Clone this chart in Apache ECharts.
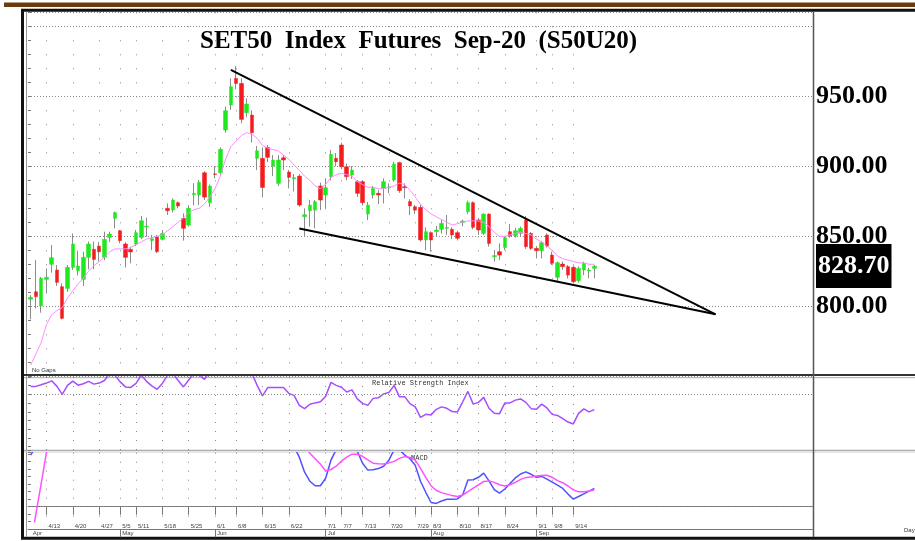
<!DOCTYPE html>
<html>
<head>
<meta charset="utf-8">
<title>SET50 Index Futures Sep-20 (S50U20)</title>
<script src="https://cdn.jsdelivr.net/npm/echarts@6/dist/echarts.min.js"></script>
<style>
  html, body { margin: 0; padding: 0; background: #fff; }
  #chart { width: 915px; height: 541px; }
</style>
</head>
<body>
<div id="chart"></div>
<script>
// trading days, Apr 8 .. Sep 18 2020
var dates = ['4/8','4/9','4/10','4/13','4/14','4/15','4/16','4/17','4/20','4/21',
  '4/22','4/23','4/24','4/27','4/28','4/29','4/30','5/5','5/7','5/8',
  '5/11','5/12','5/13','5/14','5/15','5/18','5/19','5/20','5/21','5/22',
  '5/25','5/26','5/27','5/28','5/29','6/1','6/2','6/4','6/5','6/8',
  '6/9','6/10','6/11','6/12','6/15','6/16','6/17','6/18','6/19','6/22',
  '6/23','6/24','6/25','6/26','6/29','6/30','7/1','7/2','7/3','7/7',
  '7/8','7/9','7/10','7/13','7/14','7/15','7/16','7/17','7/20','7/21',
  '7/22','7/23','7/24','7/29','7/30','7/31','8/3','8/4','8/5','8/6',
  '8/7','8/10','8/11','8/13','8/14','8/17','8/18','8/19','8/20','8/21',
  '8/24','8/25','8/26','8/27','8/28','8/31','9/1','9/2','9/3','9/8',
  '9/9','9/10','9/11','9/14','9/15','9/16','9/17','9/18'];

var opens = [805,810.4,800.2,819.2,830,825.9,814,812.8,827.8,825.4,
  819.2,835,840.7,843,835,849.2,862.8,854,844.5,840.7,
  844.5,849.2,856.8,846.9,849.7,847.8,870,868.8,874,862.8,
  858,879.7,879.5,895.4,874,894.6,895.4,925.9,943.8,962.8,
  959.2,938.3,936.6,905.7,905.7,913.5,900.2,887.8,906.1,895.9,
  891,893,864,868.3,868.7,885.9,879.5,892.6,905.7,915.2,
  899.7,893.8,889,889,865.9,879.5,880.7,884.2,884.5,890.2,
  902.6,885.4,874.8,871.1,870.7,847.4,852.6,853.3,855,855.7,
  855,852.6,859.8,867.6,874,861.7,852.1,865.9,835.4,839,
  841.9,853.3,850.4,852.1,861.6,852.1,841.4,839.7,850.9,836.6,
  820.7,830.2,828.3,827.8,818.3,825.9,825.2,827.1];

var closes = [806.5,806.9,820,820.7,834.7,817.1,791.4,827.8,844.5,828.8,
  835,844.5,833.5,839,847.8,851.6,866.9,846.9,835,838.8,
  852.6,861.1,857.3,848.3,839,852.1,868.3,875.9,871.6,855.7,
  870,880.7,888.5,878,885.9,894.2,912.1,939.7,956.9,959.2,
  933.5,944.5,924,911.1,884.9,906.4,904.5,904.5,904.5,892.1,
  891.9,872.3,865.4,872.3,874.7,875.9,884.7,908.5,903.3,899.7,
  892.6,897.3,880.7,874,872.3,884.2,879.5,889,885.2,901.6,
  882.6,884.7,871.7,868.7,847.4,853.3,847.4,854.5,859.3,856.4,
  851,848.6,860.9,874,856.4,854.5,865.9,844.9,836.2,836.6,
  849,850.2,854,855.7,842.6,841.4,839.7,845.4,843,830.7,
  831.1,828.3,822.3,817.6,827.1,830.7,825.9,828.7];

var lows = [790.7,798.5,795.4,809.2,824,814.5,790.7,810.4,826,822,
  814.5,826.4,826.4,832,833,846,855.7,845,827.8,830.7,
  843,848,849.7,840.2,838,847,865.2,867,870,846.9,
  857,872,872.3,875.9,871,891.4,893,924,940.2,955,
  930.7,935,917,897.3,877.8,903,893,886,897.3,884.2,
  882,871,849.7,856.9,855.7,868.7,869.9,890,900,898,
  890,891,878,872,861.6,877,873,873.5,880.7,889,
  881,877,865.2,866,846.2,840.2,839,849.7,852,851,
  848,847,857,866,855,851,851,842.6,831.9,833,
  840,849,849,850,841,840.2,834.2,834.2,842,829.5,
  817.6,826,819.9,816.4,817,822.3,820,820];

var highs = [808,833,821,827.1,843.8,829.5,816.4,829.5,852,839.7,
  839,846.2,846.2,846,853.3,853.3,867.6,854.5,846,842.5,
  854.5,864.5,863.3,851,851,854.5,873.5,877.1,875,866.4,
  872.3,888,890.2,896.5,887,900.2,913.5,942.6,962.8,971.6,
  962.8,948.5,940,914.5,913.5,915.2,908,908,908,897.3,
  894.5,894.5,870,875.9,875.9,888.3,891.4,911.6,909.5,916.9,
  902,900.2,890.2,890.2,874.5,886,883,891.4,887.8,903.3,
  903.3,887.8,876.5,872.3,872.4,856.4,853.5,857.4,862,865.2,
  856.4,854,862,875.5,875,863,866.4,866.4,840.2,844.9,
  850.2,858.8,856,857,864.5,853,843,846.5,852.1,839,
  832,832,829.5,829,828.5,831.9,827.5,829.5];

// moving average (pink line)
var ma10 = [758,766,774,787,794,797,799,806,811,816,
  820,825,829,832,835,839,841,841,841,842,
  844,846,848,849,850,851,854,857,860,863,
  867,869,870,873,878,884,893,905,914,918,
  922,924,923,920,915,913,912,911,908,905,
  901,897,893,890,886,884,887,892,894,895,
  894,893,889,887,885,885,884,884,885,886,
  888,887,883,878,873,869,866,864,862,860,
  858,859,860,861,861,861,860,857,853,850,
  850,851,852,853,852,851,848,846,843,840,
  836,834,833,832,831,831,830,830];

var rsi = [74.6,74.6,75.5,76.5,77.8,74.6,70,75.2,77.6,75.3,
  76.1,77.5,75.9,76.5,78,82,81,77.2,74.3,74,
  76.3,81,77.5,74.9,72.9,76.3,81,82,78,74.3,
  78.3,82,81,78.6,83,84,86,88,90,89,
  85,84,82,75.2,69.1,73.9,73.9,73.9,73.9,70.6,
  69.4,63.7,61.8,64.3,65.1,65.7,68.9,76.9,75.2,74.1,
  71.4,72.6,67.4,64.8,63.7,67.7,68,70.3,71.1,75.2,
  68.6,68.7,64.7,62.8,56.8,58.5,58.2,61.4,62.8,62,
  60.1,59.9,65.6,71.7,64.4,65.4,68.3,62,59.1,58.9,
  65,65.1,66.7,67.4,65.4,61.8,61.4,64.4,62.2,58.5,
  57.9,56,54.1,53,59.1,61.7,59.9,61.2];

var macd = [17.2,20,22,23,25,24,22,22,23,23,
  23,24,24,24,24,24,26,25,23,22,
  22,23,23,22,21,21,23,24,25,24,
  24,25,27,27,27,28,31,36,42,45,
  44,43,41,37,32,30,28,26,25,22,
  20,16.5,11.5,8.5,7,7,9.5,15.5,19,22,
  21,20,18.5,14.5,12.2,12.3,12.7,13.5,15.5,19,
  19,17.2,16,13.8,8.5,4.8,1.4,1.1,1.9,2.5,
  2.5,2.6,3.9,8.9,9,9.8,11.2,8.6,5.7,4.5,
  5.9,7.7,9.6,10.9,11.6,10.8,9.8,10.1,9.2,8.2,
  7.2,6.1,4.2,2.5,3.4,4.3,5.2,6.1];

var signal = [-12.8,-2.5,7.7,18,22,24,24,24,24,24,
  24,24,24,24,24,24,24,24,24,24,
  23,23,23,23,23,22,22,23,23,23,
  24,24,24,25,25,26,26,28,30,33,
  35,37,38,38,37,35,34,32,30,28,
  25,22,20.5,17.8,16,14.2,11.9,12.4,13.5,15.2,
  16.5,17.5,17.5,16.8,15.6,14.5,14.3,14.2,14.6,15.1,
  16.1,16.7,16.4,15.5,12.8,9.8,7,5.4,4.7,4.2,
  3.7,3.4,3.9,5,6.2,7.3,8.4,8.6,8.1,7.3,
  6.9,7.3,8.1,9.1,9.7,9.9,10.2,10.4,10.5,9.8,
  8.7,8,6.9,5.6,5,5,5.2,5.6];

var weekTicks = ['4/13','4/20','4/27','5/5','5/11','5/18','5/25','6/1','6/8','6/15','6/22',
  '7/1','7/7','7/13','7/20','7/29','8/3','8/10','8/17','8/24','9/1','9/8','9/14'];
var monthDates = ['4/8','5/5','6/1','7/1','8/3','9/1'];
var monthNames = ['Apr','May','Jun','Jul','Aug','Sep'];

// falling wedge, [day index, price]
var trendUpper = [[38, 968.8], [130, 794.3]];
var trendLower = [[51, 855.6], [130, 794.3]];

var chart = echarts.init(document.getElementById('chart'));

// blank days on the right so the wedge can run out past the data
var axisCats = dates.concat(new Array(41).fill(''));

var isWeek = function (i, v) { return weekTicks.indexOf(v) >= 0; };
var isMonth = function (i, v) { return monthDates.indexOf(v) >= 0; };
var isMonthEdge = function (i, v) { return monthDates.indexOf(v) > 0; };

var ohlc = opens.map(function (o, i) { return [o, closes[i], lows[i], highs[i]]; });
var bodies = opens.map(function (o, i) {
    return [o, closes[i], Math.min(o, closes[i]), Math.max(o, closes[i])];
});

var dotV = function (gap) {
    return { show: true, alignWithLabel: true, interval: isWeek,
        lineStyle: { color: '#8a8a8a', width: 1, type: [1, gap] } };
};

var catAxis = function (g, gap) {
    return {
        type: 'category', gridIndex: g, position: 'bottom', data: axisCats, max: 148, boundaryGap: true,
        axisLine: { show: false }, axisTick: { show: false }, axisLabel: { show: false },
        splitLine: dotV(gap)
    };
};

var smallTicks = function (g, min, max, pos) {
    return {
        type: 'value', gridIndex: g, position: pos, min: min, max: max,
        axisLine: { show: false },
        axisTick: { show: true, inside: true, length: 3, lineStyle: { color: '#777' } },
        minorTick: { show: true, splitNumber: 2, length: 3, lineStyle: { color: '#777' } },
        axisLabel: { show: false }, splitLine: { show: false }
    };
};

var dateAxis = catAxis(2, 8);
dateAxis.axisLine = { show: true, lineStyle: { color: '#777', width: 1 } };
dateAxis.axisTick = { show: true, alignWithLabel: true, interval: isWeek, length: 8,
    lineStyle: { color: '#777' } };
dateAxis.axisLabel = { show: true, interval: isWeek, align: 'left', padding: [0, 0, 0, 2],
    margin: 1.5, fontSize: 6, color: '#444', fontFamily: 'Liberation Sans' };

var monthAxis = {
    type: 'category', gridIndex: 2, position: 'bottom', data: axisCats, max: 148,
    boundaryGap: true, offset: 7.6,
    axisLine: { show: true, lineStyle: { color: '#777', width: 1 } },
    axisTick: { show: true, alignWithLabel: true, interval: isMonthEdge, length: 8,
        lineStyle: { color: '#777' } },
    axisLabel: { show: true, interval: isMonth, align: 'left', padding: [0, 0, 0, 2],
        margin: 1.5, fontSize: 6, color: '#444', fontFamily: 'Liberation Sans',
        formatter: function (v) { return monthNames[monthDates.indexOf(v)]; } },
    splitLine: { show: false }
};

var dotH = { color: '#8a8a8a', width: 1, type: [1, 2] };

var option = {
    animation: false,
    backgroundColor: '#fff',
    title: {
        text: 'SET50  Index  Futures  Sep-20  (S50U20)',
        left: 195, top: 24,
        textStyle: { fontFamily: 'Liberation Serif', fontWeight: 'bold', fontSize: 25, color: '#000' }
    },
    grid: [
        { left: 28, right: 102, top: 12.3, height: 364, outerBoundsMode: 'none' },
        { left: 28, right: 102, top: 377, height: 73, outerBoundsMode: 'none' },
        { left: 28, right: 102, top: 452.7, height: 69, outerBoundsMode: 'none' }
    ],
    xAxis: [catAxis(0, 13), catAxis(1, 8), dateAxis, monthAxis],
    yAxis: [
        {
            type: 'value', gridIndex: 0, position: 'right', min: 750, max: 1010, interval: 50,
            axisLine: { show: false }, axisTick: { show: false },
            splitLine: { show: true, lineStyle: dotH },
            axisLabel: {
                margin: 3, padding: [6, 0, 0, 0], color: '#000',
                fontFamily: 'Liberation Serif', fontWeight: 'bold', fontSize: 26,
                formatter: function (v) { return (v >= 800 && v <= 950) ? v.toFixed(2) : ''; }
            }
        },
        {
            type: 'value', gridIndex: 0, position: 'left', min: 750, max: 1010, interval: 10,
            axisLine: { show: false },
            axisTick: { show: true, inside: true, length: 3, lineStyle: { color: '#777' } },
            axisLabel: { show: false }, splitLine: { show: false }
        },
        smallTicks(1, 38, 80, 'left'),
        smallTicks(2, -5, 18, 'left')
    ],
    series: [
        {
            name: 'wick', type: 'candlestick', xAxisIndex: 0, yAxisIndex: 0,
            data: ohlc, barWidth: 1,
            itemStyle: { color: '#8c8c8c', color0: '#8c8c8c', borderColor: '#8c8c8c',
                borderColor0: '#8c8c8c', borderColorDoji: '#8c8c8c', borderWidth: 1 }
        },
        {
            name: 'S50U20', type: 'candlestick', xAxisIndex: 0, yAxisIndex: 0,
            data: bodies, barWidth: 4,
            itemStyle: { color: '#1ee81e', color0: '#f41c1c', borderColor: '#1ee81e',
                borderColor0: '#f41c1c', borderColorDoji: '#f41c1c', borderWidth: 0.5 }
        },
        {
            name: 'MA', type: 'line', xAxisIndex: 0, yAxisIndex: 0,
            data: ma10, symbol: 'none',
            lineStyle: { color: '#ff8cff', width: 1 },
            markLine: {
                silent: true, symbol: 'none', label: { show: false },
                lineStyle: { color: '#000', width: 2, type: 'solid' },
                data: [
                    [{ coord: trendUpper[0] }, { coord: trendUpper[1] }],
                    [{ coord: trendLower[0] }, { coord: trendLower[1] }]
                ]
            }
        },
        {
            // last price tag on the right axis
            name: 'last', type: 'line', xAxisIndex: 0, yAxisIndex: 0,
            data: [], symbol: 'none',
            markLine: {
                silent: true, symbol: 'none',
                lineStyle: { color: 'rgba(0,0,0,0)', width: 1 },
                label: {
                    show: true, position: 'end', distance: 3,
                    formatter: function (p) { return p.value.toFixed(2); },
                    backgroundColor: '#000', color: '#fff', padding: [10, 2, 8, 2],
                    fontFamily: 'Liberation Serif', fontWeight: 'bold', fontSize: 26
                },
                data: [{ yAxis: closes[closes.length - 1] }]
            }
        },
        {
            name: 'RSI', type: 'line', xAxisIndex: 1, yAxisIndex: 2,
            data: rsi, symbol: 'none',
            lineStyle: { color: '#a64dff', width: 1.5 },
            markLine: {
                silent: true, symbol: 'none', label: { show: false },
                lineStyle: dotH, data: [{ yAxis: 70 }]
            }
        },
        {
            name: 'MACD', type: 'line', xAxisIndex: 2, yAxisIndex: 3,
            data: macd, symbol: 'none',
            lineStyle: { color: '#5050ff', width: 1.5 },
            markLine: {
                silent: true, symbol: 'none', label: { show: false },
                lineStyle: dotH, data: [{ yAxis: 0 }]
            }
        },
        {
            name: 'Signal', type: 'line', xAxisIndex: 2, yAxisIndex: 3,
            data: signal, symbol: 'none',
            lineStyle: { color: '#ff50ff', width: 1.5 }
        }
    ],
    graphic: [
        { type: 'rect', shape: { x: 4, y: 2.5, width: 911, height: 4.5 }, style: { fill: '#6e3b0d' } },
        { type: 'rect', shape: { x: 22.5, y: 10.3, width: 905, height: 528 },
            style: { fill: 'none', stroke: '#111', lineWidth: 3 } },
        { type: 'line', shape: { x1: 26.5, y1: 12, x2: 26.5, y2: 537 }, style: { stroke: '#999', lineWidth: 1 } },
        { type: 'line', shape: { x1: 24, y1: 375, x2: 915, y2: 375 }, style: { stroke: '#333', lineWidth: 2 } },
        { type: 'line', shape: { x1: 24, y1: 377.7, x2: 915, y2: 377.7 }, style: { stroke: '#aaa', lineWidth: 1 } },
        { type: 'line', shape: { x1: 24, y1: 450.3, x2: 915, y2: 450.3 }, style: { stroke: '#999', lineWidth: 1 } },
        { type: 'line', shape: { x1: 24, y1: 452, x2: 915, y2: 452 }, style: { stroke: '#ccc', lineWidth: 1 } },
        { type: 'line', shape: { x1: 813.5, y1: 12, x2: 813.5, y2: 537 }, style: { stroke: '#555', lineWidth: 1.5 } },
        { type: 'text', x: 32, y: 367.5,
            style: { text: 'No Gaps', fill: '#333', fontSize: 6, fontFamily: 'Liberation Sans', verticalAlign: 'top' } },
        { type: 'text', x: 372, y: 380,
            style: { text: 'Relative Strength Index', fill: '#333', fontSize: 7, fontFamily: 'Liberation Mono', verticalAlign: 'top' } },
        { type: 'text', x: 411, y: 454.5,
            style: { text: 'MACD', fill: '#333', fontSize: 7, fontFamily: 'Liberation Mono', verticalAlign: 'top' } },
        { type: 'text', x: 904, y: 527,
            style: { text: 'Day', fill: '#333', fontSize: 6, fontFamily: 'Liberation Sans', verticalAlign: 'top' } }
    ]
};

chart.setOption(option);
</script>
</body>
</html>
